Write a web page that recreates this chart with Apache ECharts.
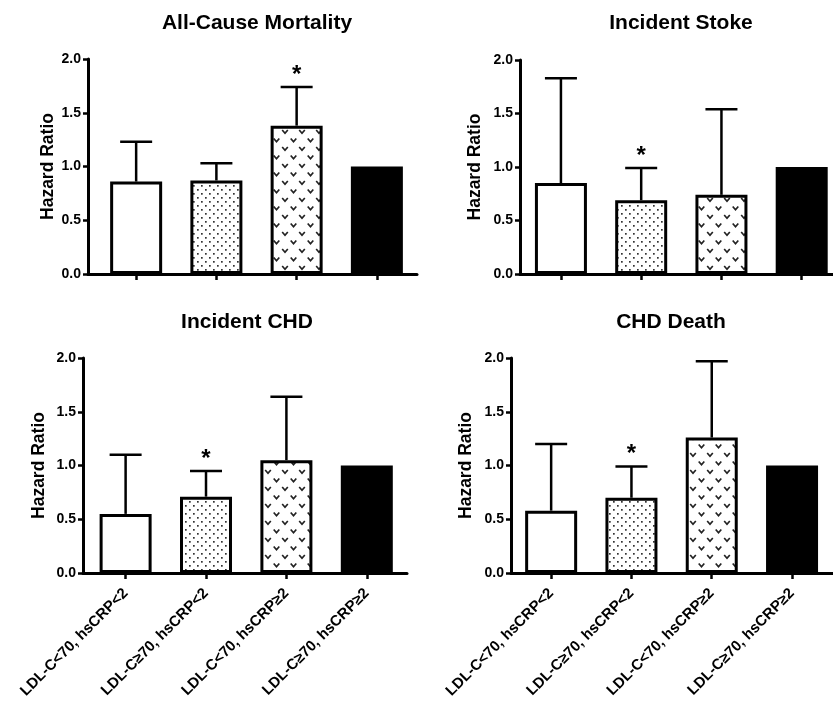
<!DOCTYPE html>
<html>
<head>
<meta charset="utf-8">
<script src="https://cdn.jsdelivr.net/npm/echarts@6/dist/echarts.min.js"></script>
<style>
  html, body { margin: 0; padding: 0; background: #fff; }
  #main { width: 833px; height: 703px; }
</style>
</head>
<body>
<div id="main"></div>
<script>
// categories and values
var categories = ['LDL-C<70, hsCRP<2', 'LDL-C≥70, hsCRP<2', 'LDL-C<70, hsCRP≥2', 'LDL-C≥70, hsCRP≥2'];
var yTicks = [0, 0.5, 1.0, 1.5, 2.0];

var allCauseHR    = [0.86, 0.87, 1.38, 1.00];
var allCauseUpper = [1.23, 1.03, 1.74, null];
var allCauseStar  = [0, 0, 1, 0];

var strokeHR    = [0.85, 0.69, 0.74, 1.00];
var strokeUpper = [1.83, 0.99, 1.54, null];
var strokeStar  = [0, 1, 0, 0];

var chdHR    = [0.55, 0.71, 1.05, 1.00];
var chdUpper = [1.10, 0.95, 1.64, null];
var chdStar  = [0, 1, 0, 0];

var deathHR    = [0.58, 0.70, 1.26, 1.00];
var deathUpper = [1.20, 0.99, 1.97, null];
var deathStar  = [0, 1, 0, 0];

var panels = [
    {title: 'All-Cause Mortality', hr: allCauseHR, up: allCauseUpper, star: allCauseStar},
    {title: 'Incident Stoke',      hr: strokeHR,   up: strokeUpper,   star: strokeStar},
    {title: 'Incident CHD',        hr: chdHR,      up: chdUpper,      star: chdStar},
    {title: 'CHD Death',           hr: deathHR,    up: deathUpper,    star: deathStar}
];

// where each panel sits on the page
var layout = [
    {left: 88,  top: 59,  right: 417, bottom: 274, xmin: -0.60, xmax: 3.50, tx: 257, ty: 13,  gap: 31, labels: false},
    {left: 520, top: 60,  right: 833, bottom: 274, xmin: -0.51, xmax: 3.39, tx: 681, ty: 13,  gap: 36, labels: false},
    {left: 83,  top: 358, right: 407, bottom: 573, xmin: -0.53, xmax: 3.50, tx: 247, ty: 312, gap: 35, labels: true},
    {left: 511, top: 358, right: 833, bottom: 573, xmin: -0.50, xmax: 3.51, tx: 671, ty: 312, gap: 36, labels: true}
];

var FONT = 'Liberation Sans, Arial, Helvetica, sans-serif';

function makeDots() {
    var c = document.createElement('canvas');
    c.width = 8; c.height = 8;
    var ctx = c.getContext('2d');
    ctx.fillStyle = '#fff';
    ctx.fillRect(0, 0, 8, 8);
    ctx.fillStyle = '#333';
    ctx.fillRect(1, 1, 1.7, 1.7);
    ctx.fillRect(5, 5, 1.7, 1.7);
    return c;
}

function makeVees() {
    var c = document.createElement('canvas');
    c.width = 17; c.height = 17;
    var ctx = c.getContext('2d');
    ctx.fillStyle = '#fff';
    ctx.fillRect(0, 0, 17, 17);
    ctx.strokeStyle = '#222';
    ctx.lineWidth = 1.7;
    function vee(x, y) {
        ctx.beginPath();
        ctx.moveTo(x - 2.8, y - 1.5);
        ctx.lineTo(x, y + 1.7);
        ctx.lineTo(x + 2.8, y - 1.5);
        ctx.stroke();
    }
    vee(4.5, 4);
    vee(13, 12.5);
    return c;
}

var fills = [
    '#fff',
    {image: makeDots(), repeat: 'repeat'},
    {image: makeVees(), repeat: 'repeat'},
    '#000'
];

function renderErr(params, api) {
    var x = api.value(0), hr = api.value(1), up = api.value(2), star = api.value(3);
    var base = api.coord([x, hr]);
    var top = api.coord([x, up]);
    var capHalf = 16;
    var kids = [
        {type: 'line', shape: {x1: base[0], y1: base[1], x2: top[0], y2: top[1]},
         style: {stroke: '#000', lineWidth: 2.5}},
        {type: 'line', shape: {x1: top[0] - capHalf, y1: top[1], x2: top[0] + capHalf, y2: top[1]},
         style: {stroke: '#000', lineWidth: 2.5}}
    ];
    if (star) {
        kids.push({type: 'text', x: top[0], y: top[1] - 12,
            style: {text: '*', fill: '#000', font: 'bold 24px ' + FONT,
                    textAlign: 'center', textVerticalAlign: 'middle'}});
    }
    return {type: 'group', children: kids};
}

var grids = [], xAxes = [], yAxes = [], series = [], graphics = [];

for (var p = 0; p < panels.length; p++) {
    var L = layout[p], P = panels[p];
    grids.push({left: L.left, top: L.top, width: L.right - L.left, height: L.bottom - L.top, containLabel: false});

    xAxes.push({
        type: 'value', gridIndex: p, min: L.xmin, max: L.xmax,
        splitLine: {show: false},
        axisLine: {show: true, onZero: false, lineStyle: {color: '#000', width: 3}},
        axisTick: {show: true, customValues: [0, 1, 2, 3], length: 6, lineStyle: {color: '#000', width: 2.5}},
        axisLabel: {
            show: L.labels, customValues: [0, 1, 2, 3], rotate: 45, margin: 18,
            color: '#000', fontWeight: 'bold', fontSize: 15, fontFamily: FONT,
            formatter: function (v) { return categories[Math.round(v)]; }
        }
    });

    yAxes.push({
        type: 'value', gridIndex: p, min: 0, max: 2, interval: 0.5,
        name: 'Hazard Ratio', nameLocation: 'middle', nameRotate: 90, nameGap: L.gap,
        nameTextStyle: {color: '#000', fontWeight: 'bold', fontSize: 17.5, fontFamily: FONT},
        splitLine: {show: false},
        axisLine: {show: true, onZero: false, lineStyle: {color: '#000', width: 3}},
        axisTick: {show: true, length: 5, lineStyle: {color: '#000', width: 2.5}},
        axisLabel: {
            color: '#000', fontWeight: 'bold', fontSize: 14, fontFamily: FONT, margin: 7,
            formatter: function (v) { return v.toFixed(1); }
        }
    });

    var barData = [], errData = [];
    for (var i = 0; i < P.hr.length; i++) {
        barData.push({
            value: [i, P.hr[i]],
            itemStyle: {color: fills[i], borderColor: '#000', borderWidth: 3}
        });
        if (P.up[i] !== null) errData.push([i, P.hr[i], P.up[i], P.star[i]]);
    }

    series.push({
        type: 'bar', xAxisIndex: p, yAxisIndex: p, barWidth: 52,
        data: barData, silent: true, animation: false
    });
    series.push({
        type: 'custom', xAxisIndex: p, yAxisIndex: p, renderItem: renderErr,
        data: errData, clip: false, silent: true, animation: false, z: 3
    });

    graphics.push({
        type: 'text', x: L.tx, y: L.ty,
        style: {text: P.title, fill: '#000', font: 'bold 21px ' + FONT, textAlign: 'center', textVerticalAlign: 'top'}
    });
}

var myChart = echarts.init(document.getElementById('main'));
myChart.setOption({
    animation: false,
    backgroundColor: '#fff',
    grid: grids,
    xAxis: xAxes,
    yAxis: yAxes,
    series: series,
    graphic: graphics
});
</script>
</body>
</html>
